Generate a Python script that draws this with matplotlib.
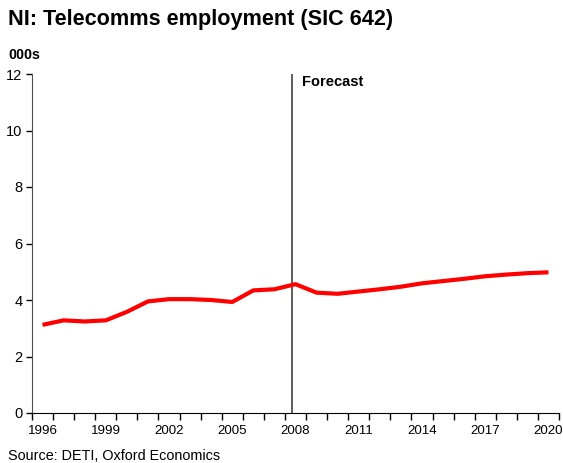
import matplotlib.pyplot as plt
import numpy as np

plt.rcParams['font.family'] = ['Liberation Sans', 'DejaVu Sans']

years = list(range(1996, 2021))
employment = [3.12, 3.28, 3.24, 3.28, 3.58, 3.95, 4.03, 4.03, 4.00, 3.93,
              4.34, 4.38, 4.56, 4.26, 4.22, 4.30, 4.38, 4.47, 4.59, 4.67,
              4.75, 4.84, 4.90, 4.95, 4.98]
yticks = [0, 2, 4, 6, 8, 10, 12]
xtick_years = [1996, 1999, 2002, 2005, 2008, 2011, 2014, 2017, 2020]
forecast_pos = 11.84  # just before the 2008 point

fig = plt.figure(figsize=(5.63, 4.63), dpi=100)
ax = fig.add_axes([32 / 563, 1 - 413 / 463, 527 / 563, 339 / 463])

x = np.arange(len(years))
ax.plot(x, employment, color='#ff0000', lw=3, solid_capstyle='butt', zorder=3)
ax.axvline(forecast_pos, color='#505050', lw=1.3, zorder=2)
ax.text(forecast_pos + 0.45, 11.7, 'Forecast', fontsize=10.5, fontweight='bold',
        va='center', ha='left')

ax.set_xlim(-0.5, len(years) - 0.5)
ax.set_ylim(0, 12)
ax.set_yticks(yticks)
ax.set_yticklabels([str(v) for v in yticks])

# category style axis: ticks between years, labels on every third year
ax.set_xticks(np.arange(-0.5, len(years)), minor=False)
ax.set_xticklabels([])
ax.set_xticks([years.index(y) for y in xtick_years], minor=True)
ax.set_xticklabels([str(y) for y in xtick_years], minor=True)
ax.tick_params(axis='x', which='major', length=5, width=1, color='black')
ax.tick_params(axis='x', which='minor', length=0, pad=9, labelsize=9.6)
ax.tick_params(axis='y', length=4, width=1, labelsize=10.5, pad=3)

for side in ['top', 'right']:
    ax.spines[side].set_visible(False)
ax.spines['left'].set_color('#505050')
ax.spines['bottom'].set_color('black')

fig.text(8 / 563, 1 - 20 / 463, 'NI: Telecomms employment (SIC 642)',
         fontsize=15.6, fontweight='bold', va='center', ha='left')
fig.text(8 / 563, 1 - 55 / 463, '000s', fontsize=10.3, fontweight='bold',
         va='center', ha='left')
fig.text(8 / 563, 1 - 456 / 463, 'Source: DETI, Oxford Economics',
         fontsize=10.4, va='center', ha='left')

fig.savefig('out.png', dpi=100)
